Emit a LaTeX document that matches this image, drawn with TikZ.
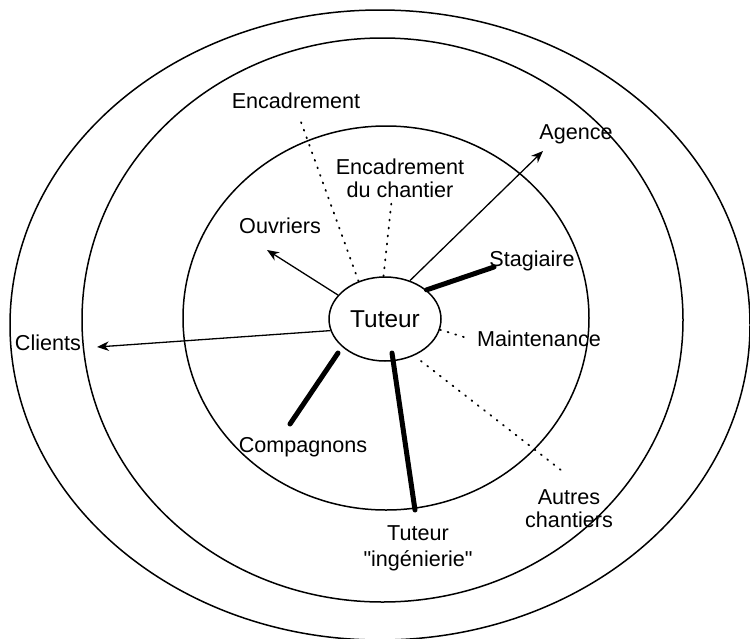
\documentclass[tikz,border=0pt]{standalone}
\usepackage{fontspec}
\setmainfont{Liberation Sans}[Ligatures=TeXOff]
\usetikzlibrary{arrows.meta,shapes.geometric}
\begin{document}
\begin{tikzpicture}[x=0.5pt,y=-0.5pt,
  ring/.style={line width=0.75pt},
  lbl/.style={align=center,inner sep=0pt,font=\fontsize{10.8}{11.6}\selectfont},
  thin/.style={line width=0.65pt},
  arr/.style={thin,-{Stealth[length=6pt,width=4.8pt]}},
  thick link/.style={line width=2.5pt,line cap=round},
  dotlink/.style={line width=0.9pt,line cap=round,dash pattern=on 0.5pt off 3.5pt}]
\useasboundingbox (0,0) rectangle (750,638);

% concentric spheres
\draw[ring] (380,325) ellipse [x radius=370,y radius=315];
\draw[ring] (382.5,320) ellipse [x radius=300.5,y radius=282];
\draw[ring] (386,318) ellipse [x radius=203,y radius=192];

% centre
\node[draw,ring,ellipse,minimum width=56pt,minimum height=42pt,inner sep=0pt,
      font=\fontsize{12.2}{14}\selectfont] (tut) at (385,319) {Tuteur};

% labels
\node[lbl] (enc)  at (296,101) {Encadrement};
\node[lbl] (encc) at (400,178) {Encadrement\\du chantier};
\node[lbl] (ouv)  at (280,226) {Ouvriers};
\node[lbl] (age)  at (576,134) {Agence};
\node[lbl] (sta)  at (532,261) {Stagiaire};
\node[lbl] (mai)  at (539,339) {Maintenance};
\node[lbl] (cli)  at (48,343)  {Clients};
\node[lbl] (com)  at (303,447) {Compagnons};
\node[lbl,font=\fontsize{10.8}{13}\selectfont] (ting) at (418,548) {Tuteur\\"ingénierie"};
\node[lbl] (aut)  at (569,509) {Autres\\chantiers};

% free ends of the links
\coordinate (pAge) at (543,151);
\coordinate (pOuv) at (267,250);
\coordinate (pCli) at (97,347);
\coordinate (pSta) at (494,267);
\coordinate (sCom) at (338,353);
\coordinate (pCom) at (290,424);
\coordinate (sTing) at (392,353);
\coordinate (pTing) at (415,510);
\coordinate (pEnc) at (301,122);
\coordinate (pEncc) at (392,197);
\coordinate (pMai) at (467,338);
\coordinate (sAut) at (421,361);
\coordinate (pAut) at (566,474);

% arrows
\draw[arr] (tut.57) -- (pAge);
\draw[arr] (tut.153) -- (pOuv);
\draw[arr] (tut.192) -- (pCli);

% strong links
\draw[thick link] (tut.35) -- (pSta);
\draw[thick link] (sCom) -- (pCom);
\draw[thick link] (sTing) -- (pTing);

% weak links
\draw[dotlink] (tut.125) -- (pEnc);
\draw[dotlink] (tut.92) -- (pEncc);
\draw[dotlink] (tut.-11) -- (pMai);
\draw[dotlink] (sAut) -- (pAut);
\end{tikzpicture}
\end{document}
